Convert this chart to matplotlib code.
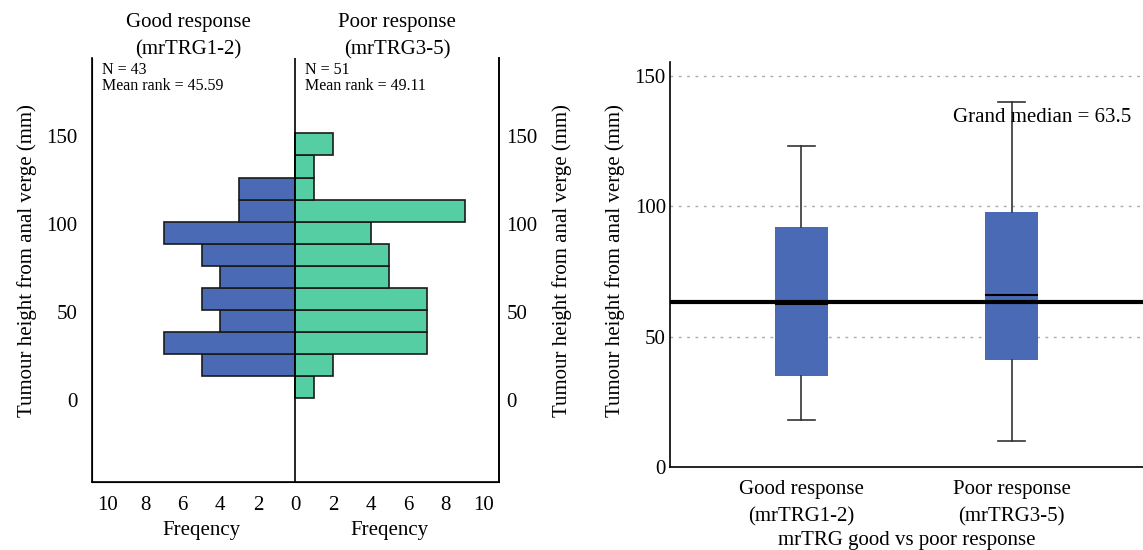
import matplotlib
matplotlib.use("Agg")
import matplotlib.pyplot as plt
import matplotlib.transforms as mtransforms

# ---- data ----
bin_edges = [1.0, 13.5, 26.1, 38.6, 51.2, 63.7, 76.3, 88.8, 101.3, 113.9, 126.4, 139.0, 151.5]
good_counts = [0, 5, 7, 4, 5, 4, 5, 7, 3, 3, 0, 0]
poor_counts = [1, 2, 7, 7, 7, 5, 5, 4, 9, 1, 1, 2]
good_n, good_rank = 43, 45.59
poor_n, poor_rank = 51, 49.11

groups = ['Good response\n(mrTRG1-2)', 'Poor response\n(mrTRG3-5)']
box_q1 = [35.0, 41.2]
box_med = [62.6, 66.0]
box_q3 = [92.1, 97.8]
box_lo = [18.0, 10.0]
box_hi = [123.1, 140.1]
grand_median = 63.5

freq_ticks = [-10, -8, -6, -4, -2, 0, 2, 4, 6, 8, 10]
y_ticks = [0, 50, 100, 150]

BLUE = '#4A6AB6'
GREEN = '#54CEA2'
ylab = 'Tumour height from anal verge (mm)'

plt.rcParams['font.family'] = ['Liberation Serif', 'DejaVu Serif']
plt.rcParams['font.size'] = 15

fig = plt.figure(figsize=(11.43, 5.5), dpi=100)

# ---- left: back-to-back histogram ----
ax = fig.add_axes([0.0802, 0.1242, 0.3566, 0.7703])
lows = bin_edges[:-1]
widths = [b - a for a, b in zip(bin_edges[:-1], bin_edges[1:])]
ax.barh(lows, [-c for c in good_counts], height=widths, align='edge',
        color=BLUE, edgecolor='#1a1a1a', linewidth=1.2)
ax.barh(lows, poor_counts, height=widths, align='edge',
        color=GREEN, edgecolor='#1a1a1a', linewidth=1.2)
ax.axvline(0, color='black', linewidth=1.2)
ax.set_xlim(-10.85, 10.85)
ax.set_ylim(-46.4, 194.3)
ax.set_xticks(freq_ticks)
ax.set_xticklabels([str(abs(t)) for t in freq_ticks])
ax.set_yticks(y_ticks)
ax.tick_params(axis='both', length=0)
ax.tick_params(axis='y', pad=10)
ax.tick_params(axis='x', pad=10)
ax.spines['top'].set_visible(False)
for s in ['left', 'right', 'bottom']:
    ax.spines[s].set_linewidth(1.2)
ax.set_ylabel(ylab)
ax.yaxis.set_label_coords(-0.134, 0.521)

trans = mtransforms.blended_transform_factory(ax.transData, ax.transAxes)
ax.text(-5, -0.116, 'Freqency', transform=trans, ha='center', va='center')
ax.text(5, -0.116, 'Freqency', transform=trans, ha='center', va='center')
ax.text(-5.7, 1.051, groups[0], transform=trans, ha='center', va='center', linespacing=1.57)
ax.text(5.4, 1.051, groups[1], transform=trans, ha='center', va='center', linespacing=1.57)
ax.text(-10.3, 0.99, f'N = {good_n}\nMean rank = {good_rank:.2f}', transform=trans,
        ha='left', va='top', fontsize=11.5, linespacing=0.95)
ax.text(0.5, 0.99, f'N = {poor_n}\nMean rank = {poor_rank:.2f}', transform=trans,
        ha='left', va='top', fontsize=11.5, linespacing=0.95)

axr = ax.twinx()
axr.set_ylim(ax.get_ylim())
axr.set_yticks(y_ticks)
axr.tick_params(axis='y', length=0, pad=5)
axr.spines['top'].set_visible(False)
axr.spines['right'].set_linewidth(1.2)
axr.set_ylabel(ylab)
axr.yaxis.set_label_coords(1.129, 0.521)

# ---- right: boxplot ----
bx = fig.add_axes([0.5862, 0.1509, 0.4138, 0.7364])
stats = []
for i in range(len(groups)):
    stats.append(dict(med=box_med[i], q1=box_q1[i], q3=box_q3[i],
                      whislo=box_lo[i], whishi=box_hi[i], fliers=[]))
bx.bxp(stats, positions=[1, 2], widths=0.25, patch_artist=True, showfliers=False,
       boxprops=dict(facecolor=BLUE, edgecolor='none'),
       medianprops=dict(color='black', linewidth=1.5),
       whiskerprops=dict(color='#333333', linewidth=1.2),
       capprops=dict(color='#333333', linewidth=1.2))
bx.axhline(grand_median, color='black', linewidth=3, zorder=5)
bx.set_xlim(0.375, 2.625)
bx.set_ylim(0, 155.4)
bx.set_yticks(y_ticks)
bx.set_xticks([1, 2])
bx.set_xticklabels(groups)
for lbl in bx.get_xticklabels():
    lbl.set_linespacing(1.6)
bx.tick_params(axis='both', length=0)
bx.tick_params(axis='x', pad=9)
bx.tick_params(axis='y', pad=3)
bx.grid(axis='y', linestyle=(0, (2, 4)), color='#aaaaaa', linewidth=1)
bx.set_axisbelow(True)
for s in ['top', 'right']:
    bx.spines[s].set_visible(False)
for s in ['left', 'bottom']:
    bx.spines[s].set_linewidth(1.2)
bx.set_ylabel(ylab)
bx.yaxis.set_label_coords(-0.095, 0.509)
bx.set_xlabel('mrTRG good vs poor response', labelpad=3.5)
bx.text(0.975, 134, f'Grand median = {grand_median}',
        transform=mtransforms.blended_transform_factory(bx.transAxes, bx.transData),
        ha='right', va='center')

fig.savefig('out.png', dpi=100)
